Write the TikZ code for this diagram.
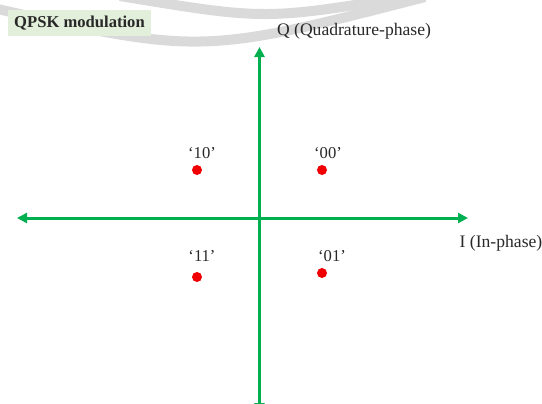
\documentclass[tikz,border=0pt]{standalone}
\usepackage{fontspec}
\setmainfont{Liberation Serif}
\usepackage{xcolor}
\usetikzlibrary{arrows.meta,positioning}
\definecolor{qaxis}{RGB}{0,176,80}
\definecolor{qdot}{RGB}{240,0,0}
\definecolor{qbox}{RGB}{226,239,218}
\definecolor{qtext}{RGB}{40,40,40}
\definecolor{qarc}{RGB}{218,218,218}
\tikzset{
  axis/.style={qaxis,line width=1.5pt,
               {Triangle[length=5pt,width=5pt]}-{Triangle[length=5pt,width=5pt]}},
  sym/.style={circle,fill=qdot,inner sep=0pt,minimum size=5pt},
  bits/.style={font=\fontsize{8.3}{10}\selectfont,text=qtext,inner sep=0pt},
  axlabel/.style={font=\fontsize{8.8}{10}\selectfont,text=qtext,inner sep=0pt},
  title/.style={fill=qbox,font=\fontsize{8.3}{10}\selectfont\bfseries,text=qtext,
                minimum width=71.5pt,minimum height=13pt,inner sep=0pt},
  deco/.style={qarc,line width=5pt},
}

\begin{document}
\begin{tikzpicture}[x=0.5pt,y=-0.5pt]
  \useasboundingbox (0,0) rectangle (542,403);
  % faint background arcs
  \begin{scope}
    \clip (0,0) rectangle (542,403);
    \draw[deco] (120,-4) .. controls (265,20) .. (410,-4);
    \draw[deco] (-20,5) .. controls (200,55) .. (425,-3);
  \end{scope}
  \node[title] (head) at (79.5,23) {QPSK modulation};
  % axes
  \coordinate (west)  at (17,218);
  \coordinate (east)  at (468,218);
  \coordinate (north) at (259.5,47);
  \coordinate (south) at (259.5,413);
  \draw[axis] (west) -- (east);
  \draw[axis] (south) -- (north);
  \node[axlabel] (qlab) at (354,31) {Q (Quadrature-phase)};
  \node[axlabel] (ilab) at (501,243) {I (In-phase)};
  % constellation points
  \node[sym] (s10) at (197,170) {};
  \node[sym] (s00) at (322,170) {};
  \node[sym] (s11) at (197,277) {};
  \node[sym] (s01) at (322,273) {};
  \node[bits] (b10) at (202,153) {‘10’};
  \node[bits] (b00) at (328,153) {‘00’};
  \node[bits] (b11) at (202,256) {‘11’};
  \node[bits] (b01) at (332,256) {‘01’};
\end{tikzpicture}
\end{document}
